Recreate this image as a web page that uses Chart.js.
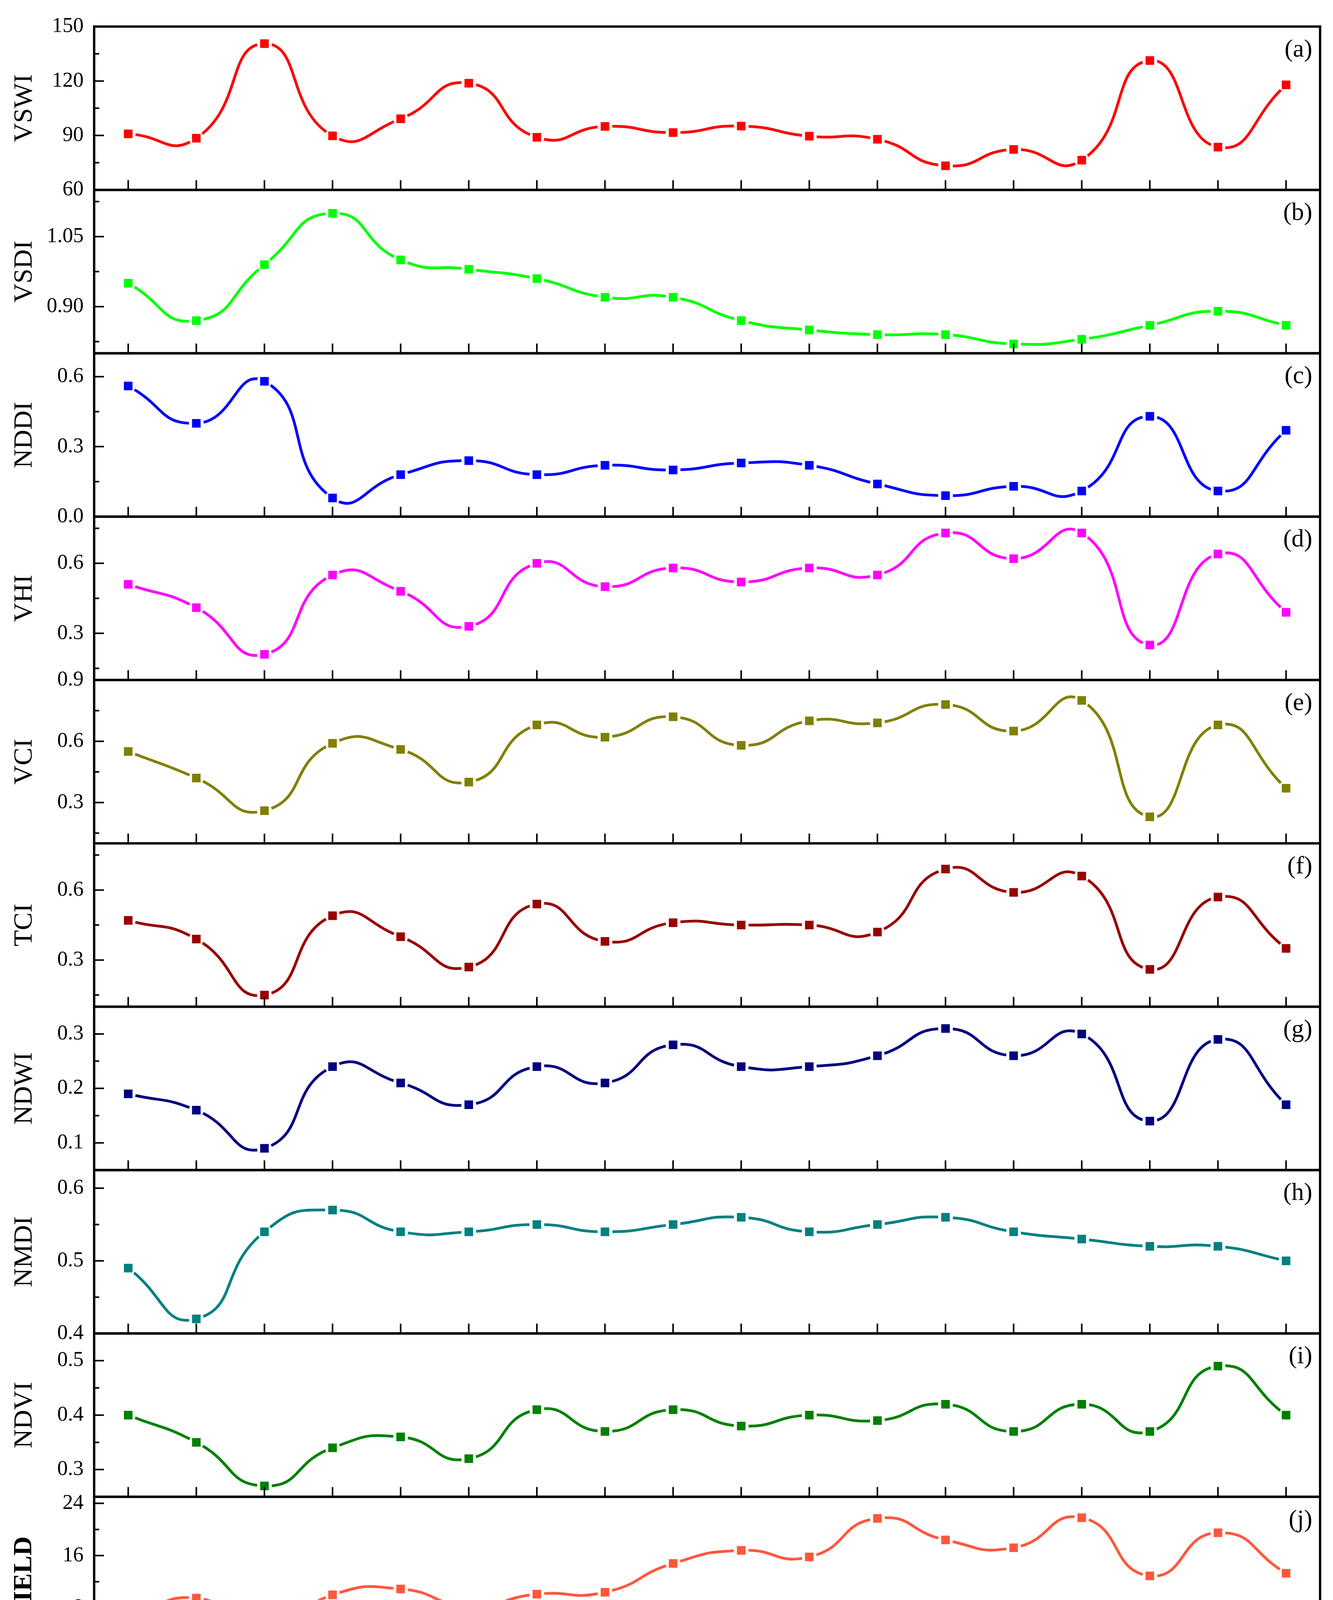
<!DOCTYPE html>
<html>
<head>
<meta charset="utf-8">
<title>Drought indices and yield 2000-2017</title>
<script src="https://cdn.jsdelivr.net/npm/chart.js@4.4.1/dist/chart.umd.min.js"></script>
<style>
  html, body { margin: 0; padding: 0; background: #ffffff; }
  canvas { display: block; }
</style>
</head>
<body>
<canvas id="grafico-indices" width="3412" height="4560"></canvas>
<script>
// Years on the shared x axis
const years = ['2000', '2001', '2002', '2003', '2004', '2005', '2006', '2007', '2008',
               '2009', '2010', '2011', '2012', '2013', '2014', '2015', '2016', '2017'];

// Series values
const vswi  = [90.9, 88.5, 140.6, 89.8, 99.2, 118.8, 89.0, 95.0, 91.6, 95.2, 89.6, 87.9, 73.3, 82.3, 76.4, 131.3, 83.6, 117.9];
const vsdi  = [0.95, 0.87, 0.99, 1.10, 1.00, 0.98, 0.96, 0.92, 0.92, 0.87, 0.85, 0.84, 0.84, 0.82, 0.83, 0.86, 0.89, 0.86];
const nddi  = [0.56, 0.40, 0.58, 0.08, 0.18, 0.24, 0.18, 0.22, 0.20, 0.23, 0.22, 0.14, 0.09, 0.13, 0.11, 0.43, 0.11, 0.37];
const vhi   = [0.51, 0.41, 0.21, 0.55, 0.48, 0.33, 0.60, 0.50, 0.58, 0.52, 0.58, 0.55, 0.73, 0.62, 0.73, 0.25, 0.64, 0.39];
const vci   = [0.55, 0.42, 0.26, 0.59, 0.56, 0.40, 0.68, 0.62, 0.72, 0.58, 0.70, 0.69, 0.78, 0.65, 0.80, 0.23, 0.68, 0.37];
const tci   = [0.47, 0.39, 0.15, 0.49, 0.40, 0.27, 0.54, 0.38, 0.46, 0.45, 0.45, 0.42, 0.69, 0.59, 0.66, 0.26, 0.57, 0.35];
const ndwi  = [0.19, 0.16, 0.09, 0.24, 0.21, 0.17, 0.24, 0.21, 0.28, 0.24, 0.24, 0.26, 0.31, 0.26, 0.30, 0.14, 0.29, 0.17];
const nmdi  = [0.49, 0.42, 0.54, 0.57, 0.54, 0.54, 0.55, 0.54, 0.55, 0.56, 0.54, 0.55, 0.56, 0.54, 0.53, 0.52, 0.52, 0.50];
const ndvi  = [0.40, 0.35, 0.27, 0.34, 0.36, 0.32, 0.41, 0.37, 0.41, 0.38, 0.40, 0.39, 0.42, 0.37, 0.42, 0.37, 0.49, 0.40];
const yieldVals = [6.2, 9.5, 4.3, 10.0, 10.9, 8.3, 10.1, 10.4, 14.8, 16.8, 15.8, 21.7, 18.4, 17.2, 21.8, 12.9, 19.5, 13.3];

// Axis ranges
const vswiRange  = [60, 150];
const vsdiRange  = [0.80, 1.15];
const nddiRange  = [0.0, 0.7];
const vhiRange   = [0.1, 0.8];
const vciRange   = [0.1, 0.9];
const tciRange   = [0.1, 0.8];
const ndwiRange  = [0.05, 0.35];
const nmdiRange  = [0.4, 0.625];
const ndviRange  = [0.25, 0.55];
const yieldRange = [0, 25];

// Tick labels (major ticks)
const vswiTicks  = ['60', '90', '120', '150'];
const vsdiTicks  = ['0.90', '1.05'];
const nddiTicks  = ['0.0', '0.3', '0.6'];
const vhiTicks   = ['0.3', '0.6'];
const vciTicks   = ['0.3', '0.6', '0.9'];
const tciTicks   = ['0.3', '0.6'];
const ndwiTicks  = ['0.1', '0.2', '0.3'];
const nmdiTicks  = ['0.4', '0.5', '0.6'];
const ndviTicks  = ['0.3', '0.4', '0.5'];
const yieldTicks = ['0', '8', '16', '24'];

const fuente = "'Liberation Serif', 'DejaVu Serif', 'Times New Roman', serif";

// Panels from top to bottom
const panels = [
    { id: 'yA', name: 'VSWI',  tag: '(a)', values: vswi,      range: vswiRange,  ticks: vswiTicks,  color: '#ff0000' },
    { id: 'yB', name: 'VSDI',  tag: '(b)', values: vsdi,      range: vsdiRange,  ticks: vsdiTicks,  color: '#00ff00' },
    { id: 'yC', name: 'NDDI',  tag: '(c)', values: nddi,      range: nddiRange,  ticks: nddiTicks,  color: '#0000ff' },
    { id: 'yD', name: 'VHI',   tag: '(d)', values: vhi,       range: vhiRange,   ticks: vhiTicks,   color: '#ff00ff' },
    { id: 'yE', name: 'VCI',   tag: '(e)', values: vci,       range: vciRange,   ticks: vciTicks,   color: '#808000' },
    { id: 'yF', name: 'TCI',   tag: '(f)', values: tci,       range: tciRange,   ticks: tciTicks,   color: '#990000' },
    { id: 'yG', name: 'NDWI',  tag: '(g)', values: ndwi,      range: ndwiRange,  ticks: ndwiTicks,  color: '#000080' },
    { id: 'yH', name: 'NMDI',  tag: '(h)', values: nmdi,      range: nmdiRange,  ticks: nmdiTicks,  color: '#008080' },
    { id: 'yI', name: 'NDVI',  tag: '(i)', values: ndvi,      range: ndviRange,  ticks: ndviTicks,  color: '#008000' },
    { id: 'yJ', name: 'YIELD', tag: '(j)', values: yieldVals, range: yieldRange, ticks: yieldTicks, color: '#ff573d' }
];

// Square marker with a white gap around it (line breaks near the symbol)
function crearMarcador(color) {
    const c = document.createElement('canvas');
    c.width = 44;
    c.height = 44;
    const g = c.getContext('2d');
    g.fillStyle = '#ffffff';
    g.beginPath();
    g.arc(22, 22, 19, 0, Math.PI * 2);
    g.fill();
    g.fillStyle = color;
    g.fillRect(11, 11, 22, 22);
    return c;
}

// Minor ticks halfway between the major ones
function ticksMenores(p) {
    const v = p.ticks.map(t => parseFloat(t));
    const paso = v[1] - v[0];
    const res = [];
    let t = v[0] - paso / 2;
    while (t > p.range[0]) t -= paso;
    for (; t <= p.range[1] + 1e-9; t += paso) {
        if (t >= p.range[0] - 1e-9) res.push(t);
    }
    return res;
}

// Frames, inward ticks and panel tags
const marcos = {
    id: 'marcos',
    afterDatasetsDraw(chart) {
        const { ctx, chartArea } = chart;
        const ejeX = chart.scales.x;
        ctx.save();
        ctx.strokeStyle = '#000000';
        panels.forEach(p => {
            const s = chart.scales[p.id];
            ctx.lineWidth = 4;
            ctx.beginPath();
            years.forEach((yr, k) => {
                const px = ejeX.getPixelForValue(k);
                ctx.moveTo(px, s.bottom);
                ctx.lineTo(px, s.bottom - 25);
            });
            p.ticks.forEach(t => {
                const py = s.getPixelForValue(parseFloat(t));
                ctx.moveTo(chartArea.left, py);
                ctx.lineTo(chartArea.left + 25, py);
            });
            ticksMenores(p).forEach(t => {
                const py = s.getPixelForValue(t);
                ctx.moveTo(chartArea.left, py);
                ctx.lineTo(chartArea.left + 13, py);
            });
            ctx.stroke();

            ctx.lineWidth = 6;
            ctx.strokeRect(chartArea.left, s.top, chartArea.right - chartArea.left, s.bottom - s.top);

            ctx.fillStyle = '#000000';
            ctx.font = `64px ${fuente}`;
            ctx.textAlign = 'right';
            ctx.textBaseline = 'middle';
            ctx.fillText(p.tag, chartArea.right - 20, s.top + 60);
        });
        ctx.restore();
    }
};

// Scales: shared x axis and one stacked y axis per panel
const escalas = {
    x: {
        type: 'category',
        offset: true,
        grid: { display: false, drawTicks: false },
        border: { display: false },
        ticks: {
            color: '#000000',
            font: { family: fuente, size: 66 },
            minRotation: 90,
            maxRotation: 90,
            autoSkip: false,
            padding: 37
        },
        title: {
            display: true,
            text: 'Year',
            color: '#000000',
            font: { family: fuente, size: 72 },
            padding: { top: 0, bottom: 11 }
        },
        afterFit: s => { s.height = 310; }
    }
};

// left stacks are placed last-defined on top, so add them bottom-up
panels.slice().reverse().forEach(p => {
    escalas[p.id] = {
        type: 'linear',
        position: 'left',
        stack: 'paneles',
        stackWeight: 1,
        min: p.range[0],
        max: p.range[1],
        afterBuildTicks: s => { s.ticks = p.ticks.map(t => ({ value: parseFloat(t) })); },
        grid: { display: false, drawTicks: false },
        border: { display: false },
        ticks: {
            color: '#000000',
            font: { family: fuente, size: 54 },
            padding: 27,
            autoSkip: false,
            callback: (v, i) => p.ticks[i]
        },
        title: {
            display: true,
            text: p.name,
            color: '#000000',
            font: { family: fuente, size: 68, weight: p.name === 'YIELD' ? 'bold' : 'normal' },
            padding: { top: 22, bottom: 0 }
        },
        afterFit: s => { s.width = 241; }
    };
});

const grafico = document.getElementById('grafico-indices').getContext('2d');

window.graficaIndices = new Chart(grafico, {
    type: 'line',
    data: {
        labels: years,
        datasets: panels.map(p => ({
            label: p.name,
            data: p.values,
            yAxisID: p.id,
            borderColor: p.color,
            backgroundColor: p.color,
            borderWidth: 7,
            fill: false,
            tension: 0.55,
            pointStyle: crearMarcador(p.color),
            pointRadius: 11,
            pointHoverRadius: 11
        }))
    },
    options: {
        responsive: false,
        devicePixelRatio: 1,
        animation: false,
        layout: { padding: { top: 68, right: 33, bottom: 0, left: 0 } },
        scales: escalas,
        plugins: {
            legend: { display: false },
            tooltip: { enabled: false },
            title: { display: false }
        }
    },
    plugins: [marcos]
});
</script>
</body>
</html>
